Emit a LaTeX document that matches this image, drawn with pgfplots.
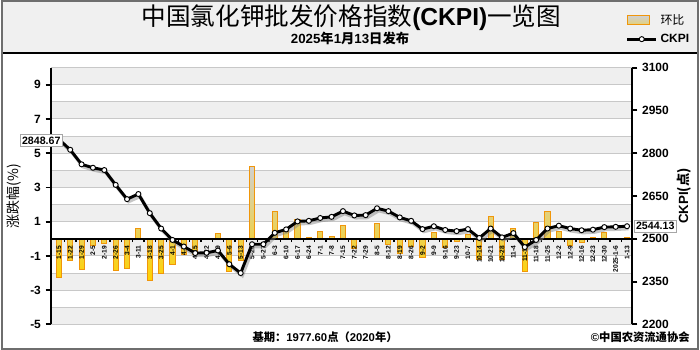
\documentclass[border=0pt]{standalone}
\usepackage{pgfplots}
\pgfplotsset{compat=1.18}
\usepackage{pgfplotstable}
\usepackage{fontspec}
\setmainfont{Liberation Sans}
\newfontfamily\cjk{Noto Sans CJK SC}
\definecolor{band}{HTML}{EFEFEF}
\definecolor{gridc}{HTML}{C8C8C8}
\definecolor{barborder}{HTML}{F0960A}
\definecolor{bartop}{HTML}{D0D0D0}
\definecolor{barbot}{HTML}{FFD200}
\definecolor{titlebg}{HTML}{F0F0F0}
\definecolor{framec}{HTML}{6E6E6E}

\pgfplotstableread{
x ckpi chg
0 2848.67 -2.25
1 2812 -1.25
2 2761 -1.82
3 2749 -0.40
4 2741 -0.28
5 2689 -1.88
6 2639 -1.72
7 2657 0.62
8 2590 -2.45
9 2536 -2.05
10 2496 -1.52
11 2473 -0.92
12 2450 -0.90
13 2451 0.04
14 2459 0.32
15 2411 -1.90
16 2380 -1.29
17 2481 4.25
18 2481 0.00
19 2521 1.60
20 2533 0.45
21 2561 1.12
22 2563 0.08
23 2573 0.40
24 2577 0.14
25 2597 0.76
26 2582 -0.55
27 2583 0.04
28 2607 0.90
29 2597 -0.35
30 2575 -0.85
31 2563 -0.47
32 2534 -1.12
33 2544 0.38
34 2531 -0.50
35 2527 -0.15
36 2534 0.27
37 2503 -1.22
38 2536 1.30
39 2505 -1.22
40 2520 0.58
41 2471 -1.92
42 2496 0.98
43 2536 1.62
44 2546 0.40
45 2536 -0.38
46 2530 -0.22
47 2532 0.10
48 2541 0.36
49 2542 0.04
50 2544.13 0.08
}\data

\begin{document}
\begin{tikzpicture}
% background and frame
\fill[white] (0,0) rectangle (525pt,263.25pt);
\fill[titlebg] (0,223.1pt) rectangle (525pt,263.25pt);
\draw[black, line width=1.6pt] (0,223.1pt) -- (525pt,223.1pt);
\draw[framec, line width=1.2pt] (0.6pt,0.6pt) rectangle (524.4pt,262.65pt);
\node[font=\cjk\fontsize{18.5}{20}\selectfont] at (263.6pt,249.75pt) {中国氯化钾批发价格指数{\rmfamily\bfseries (CKPI)}一览图};
\node[font=\bfseries\fontsize{10}{12}\selectfont] at (262.5pt,234pt) {2025{\cjk 年}1{\cjk 月}13{\cjk 日发布}};
\node[font=\bfseries\fontsize{8.5}{10}\selectfont] at (243.75pt,9.75pt) {{\cjk 基期：}1977.60{\cjk 点（}2020{\cjk 年）}};
\node[font=\bfseries\fontsize{8.5}{10}\selectfont, anchor=east] at (521.5pt,9.75pt) {©{\cjk 中国农资流通协会}};

\begin{axis}[
  at={(37.5pt,19.2pt)}, anchor=south west,
  scale only axis, width=437.25pt, height=193.2pt,
  xmin=-0.7, xmax=50.45, ymin=-5, ymax=10,
  axis on top,
  axis x line=middle, axis y line=left,
  every inner x axis line/.append style={-},
  every outer y axis line/.append style={-},
  axis line style={-, line width=1.5pt, black},
  tick align=outside,
  major tick length=4pt,
  minor tick length=2.5pt,
  ytick={-5,-3,-1,1,3,5,7,9},
  major y tick style={line width=1.4pt, black},
  xtick={0,...,50},
  major x tick style={draw=none},
  minor x tick num=1,
  minor x tick style={line width=0.9pt, black},
  xticklabels={1-15,1-22,1-29,2-5,2-19,2-26,3-4,3-11,3-18,3-25,4-1,4-8,4-15,4-22,4-29,5-6,5-13,5-20,5-27,6-3,6-10,6-17,6-24,7-1,7-8,7-15,7-22,7-29,8-5,8-12,8-19,8-26,9-2,9-9,9-16,9-23,10-7,10-14,10-21,10-28,11-4,11-11,11-18,11-25,12-2,12-9,12-16,12-23,12-30,2025-1-6,1-13},
  xticklabel style={rotate=90, anchor=east, font=\bfseries\fontsize{5}{6}\selectfont, inner sep=1pt},
  yticklabel style={font=\bfseries\fontsize{9}{10}\selectfont},
  /pgf/number format/assume math mode=true,
  ylabel={\cjk 涨跌幅(\%)},
  ylabel style={at={(axis description cs:-0.0635,0.5)}, anchor=center, font=\fontsize{10.5}{12}\selectfont},
]
\fill[band] (axis cs:-0.7,-5) rectangle (axis cs:50.45,-4);
\fill[band] (axis cs:-0.7,-3) rectangle (axis cs:50.45,-2);
\fill[band] (axis cs:-0.7,-1) rectangle (axis cs:50.45,0);
\fill[band] (axis cs:-0.7,1) rectangle (axis cs:50.45,2);
\fill[band] (axis cs:-0.7,3) rectangle (axis cs:50.45,4);
\fill[band] (axis cs:-0.7,5) rectangle (axis cs:50.45,6);
\fill[band] (axis cs:-0.7,7) rectangle (axis cs:50.45,8);
\fill[band] (axis cs:-0.7,9) rectangle (axis cs:50.45,10);
\pgfplotsinvokeforeach{-5,-4,-3,-2,-1,1,2,3,4,5,6,7,8,9,10}{
  \draw[gridc, line width=0.7pt] (axis cs:-0.7,#1) -- (axis cs:50.45,#1);
}
\addplot[ybar, bar width=3.8pt, draw=barborder, line width=0.75pt,
  top color=bartop, bottom color=barbot] table[x=x, y=chg] {\data};
\end{axis}

\begin{axis}[
  at={(37.5pt,19.2pt)}, anchor=south west,
  scale only axis, width=437.25pt, height=193.2pt,
  xmin=-0.7, xmax=50.45, ymin=2200, ymax=3100,
  axis x line=none, axis y line=right,
  every outer y axis line/.append style={-},
  axis line style={-, line width=1.5pt, black},
  tick align=outside,
  major tick length=4pt,
  ytick={2200,2350,2500,2650,2800,2950,3100},
  major y tick style={line width=1.4pt, black},
  scaled y ticks=false,
  /pgf/number format/1000 sep={},
  /pgf/number format/assume math mode=true,
  yticklabel style={font=\bfseries\fontsize{9}{10}\selectfont},
  ylabel={\bfseries CKPI{\cjk (点)}},
  ylabel style={at={(axis description cs:1.089,0.5)}, anchor=center, font=\fontsize{10}{12}\selectfont},
  clip=false,
  legend style={at={(axis description cs:1.103,1.22)}, anchor=north east, draw=none, fill=none,
    font=\fontsize{9}{10}\selectfont, row sep=2pt, inner sep=0pt, cells={anchor=west}},
]
\addlegendimage{legend image code/.code={\draw[draw=barborder, line width=0.9pt, top color=bartop, bottom color=bartop!60!barbot] (0pt,-3.2pt) rectangle (17pt,3.2pt);}}
\addlegendentry{\cjk 环比}
\addplot[forget plot, line width=2.6pt, black!50, opacity=0.45, xshift=1.2pt, yshift=-1.8pt] table[x=x, y=ckpi] {\data};
\addplot[black, line width=2.2pt, mark=*, mark size=1.9pt, mark options={fill=white, draw=black, line width=0.7pt},
  legend image code/.code={\draw[mark repeat=2,mark phase=2] plot coordinates {(0pt,0pt) (11pt,0pt) (22pt,0pt)};}]
  table[x=x, y=ckpi] {\data};
\addlegendentry{\bfseries CKPI}
\coordinate (first) at (axis cs:0,2848.67);
\coordinate (last) at (axis cs:50,2544.13);
\end{axis}
\node[draw=black!35, fill=white, font=\bfseries\fontsize{8}{9}\selectfont, inner sep=1.6pt, anchor=east, xshift=3pt, yshift=-1pt] at (first) {2848.67};
\node[draw=black!35, fill=white, font=\bfseries\fontsize{8}{9}\selectfont, inner sep=1.6pt, anchor=west, xshift=5pt] at (last) {2544.13};
\end{tikzpicture}
\end{document}
